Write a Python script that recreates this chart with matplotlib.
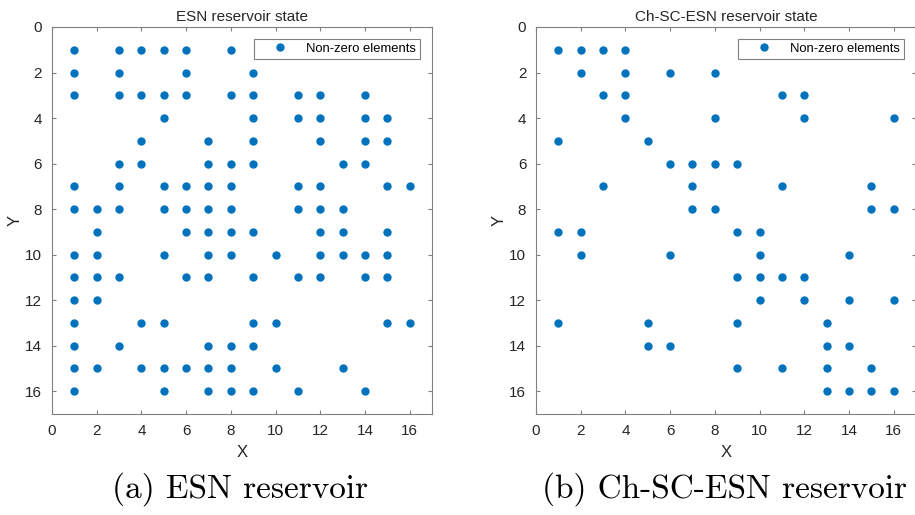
import matplotlib
matplotlib.use("Agg")
import matplotlib.pyplot as plt

# non-zero columns (X) for each row Y = 1..16
esn_rows = [
    [1, 3, 4, 5, 6, 8],
    [1, 3, 6, 9],
    [1, 3, 4, 5, 6, 8, 9, 11, 12, 14],
    [5, 9, 11, 12, 14, 15],
    [4, 7, 9, 12, 14, 15],
    [3, 4, 7, 8, 9, 13, 14],
    [1, 3, 5, 6, 7, 8, 11, 12, 15, 16],
    [1, 2, 3, 5, 6, 7, 8, 11, 12, 13],
    [2, 6, 7, 8, 9, 12, 13, 15],
    [1, 2, 5, 7, 8, 10, 12, 13, 14, 15],
    [1, 2, 3, 6, 7, 9, 11, 12, 14, 15],
    [1, 2],
    [1, 4, 5, 9, 10, 15, 16],
    [1, 3, 7, 8, 9],
    [1, 2, 4, 5, 6, 7, 8, 10, 13],
    [1, 5, 7, 8, 9, 11, 14],
]

chsc_rows = [
    [1, 2, 3, 4],
    [2, 4, 6, 8],
    [3, 4, 11, 12],
    [4, 8, 12, 16],
    [1, 5],
    [6, 7, 8, 9],
    [3, 7, 11, 15],
    [7, 8, 15, 16],
    [1, 2, 9, 10],
    [2, 6, 10, 14],
    [9, 10, 11, 12],
    [10, 12, 14, 16],
    [1, 5, 9, 13],
    [5, 6, 13, 14],
    [9, 11, 13, 15],
    [13, 14, 15, 16],
]

titles = ["ESN reservoir state", "Ch-SC-ESN reservoir state"]
captions = ["(a) ESN reservoir", "(b) Ch-SC-ESN reservoir"]
ticks = [0, 2, 4, 6, 8, 10, 12, 14, 16]

blue = "#0072BD"
gray = "#808080"
txt = "#262626"


def to_xy(rows):
    xs, ys = [], []
    for r, cols in enumerate(rows, start=1):
        for c in cols:
            xs.append(c)
            ys.append(r)
    return xs, ys


fig = plt.figure(figsize=(9.15, 5.15), dpi=100)
plt.rcParams['font.family'] = ['Liberation Sans', 'DejaVu Sans']

boxes = [[0.0568, 0.1961, 0.4153, 0.7515], [0.5858, 0.1961, 0.4153, 0.7515]]
cap_x = [0.262, 0.792]

for i, rows in enumerate([esn_rows, chsc_rows]):
    ax = fig.add_axes(boxes[i])
    xs, ys = to_xy(rows)
    ax.plot(xs, ys, 'o', color=blue, markersize=5, label='Non-zero elements')
    ax.set_xlim(0, 17)
    ax.set_ylim(17, 0)
    ax.set_xticks(ticks)
    ax.set_yticks(ticks)
    ax.tick_params(direction='in', top=True, right=True, length=3,
                   color=gray, labelcolor=txt, labelsize=11, pad=7)
    for s in ax.spines.values():
        s.set_color(gray)
        s.set_linewidth(0.8)
    ax.set_title(titles[i], fontsize=11, color=txt, pad=4)
    ax.set_xlabel('X', fontsize=12, color=txt, labelpad=5)
    ax.set_ylabel('Y', fontsize=12, color=txt, labelpad=2)
    leg = ax.legend(loc='upper right', bbox_to_anchor=(0.968, 0.969),
                    fontsize=9.4, frameon=True, fancybox=False,
                    edgecolor=gray, framealpha=1, borderpad=0.3,
                    handletextpad=0.3, borderaxespad=0, handlelength=3.4)
    leg.get_frame().set_linewidth(0.8)
    fig.text(cap_x[i], 0.05, captions[i], ha='center', va='center',
             fontsize=24, family='cmr10', color='black')

fig.savefig('out.png', dpi=100)
